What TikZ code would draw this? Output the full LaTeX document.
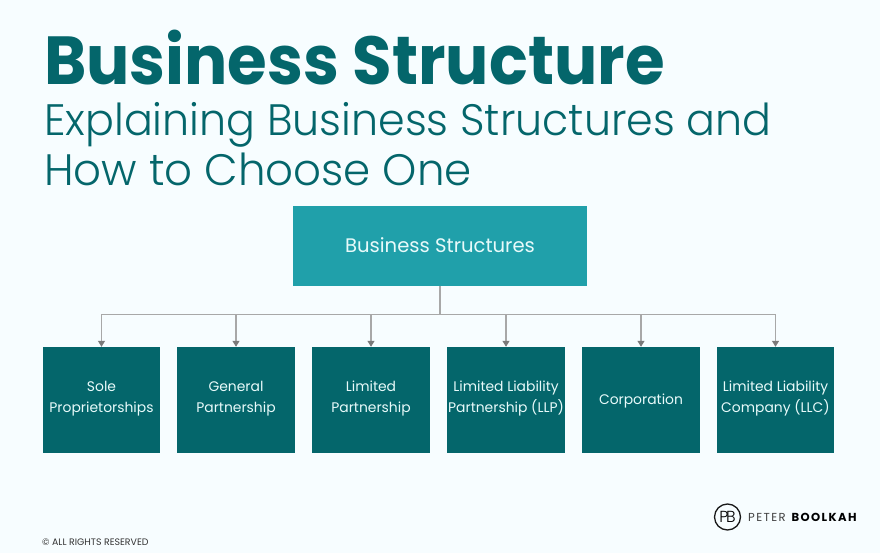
\documentclass[tikz,border=0pt]{standalone}
\usepackage{fontspec}
\setmainfont{Poppins}
\newfontfamily\lt{Poppins Light}
\usetikzlibrary{arrows.meta,calc}
\definecolor{bgc}{HTML}{F7FDFF}
\definecolor{titlec}{HTML}{04666B}
\definecolor{rootc}{HTML}{20A0AA}
\definecolor{boxc}{HTML}{04666B}
\definecolor{linec}{HTML}{A8A8A8}
\definecolor{tipc}{HTML}{7A7A7A}
\definecolor{boxtext}{HTML}{E8FAFA}
\tikzset{
 leaf/.style={fill=boxc,draw=none,minimum width=117.5pt,minimum height=106pt,inner sep=0pt},
 leaftext/.style={inner sep=0pt,align=center,text=boxtext,font=\fontsize{13.9}{21}\selectfont},
 conn/.style={draw=linec,line width=1.2pt,-{Triangle[length=6pt,width=7pt,color=tipc]}},
}
\begin{document}
\begin{tikzpicture}[x=1pt,y=-1pt]
\useasboundingbox[fill=bgc] (0,0) rectangle (880,553);
\node[anchor=base west,inner sep=0pt,text=titlec,font=\fontsize{68}{68}\bfseries\selectfont\addfontfeature{FakeStretch=0.945}] (title) at (44,85) {Business Structure};
\node[anchor=base west,inner sep=0pt,text=titlec,font=\fontsize{44}{44}\lt\addfontfeature{FakeStretch=0.972}] (sub1) at (44,136) {Explaining Business Structures and};
\node[anchor=base west,inner sep=0pt,text=titlec,font=\fontsize{44}{44}\lt\addfontfeature{FakeStretch=0.99}] (sub2) at (44,186) {How to Choose One};
\node[fill=rootc,minimum width=294pt,minimum height=80pt,inner sep=0pt] (root) at (440,246) {};
\node[inner sep=0pt,text=boxtext,font=\fontsize{19.6}{24}\selectfont] (roottext) at (440,245) {Business Structures};
\node[leaf] (a) at (101.5,400) {};
\node[leaf] (b) at (236,400) {};
\node[leaf] (c) at (371,400) {};
\node[leaf] (d) at (506,400) {};
\node[leaf] (e) at (641,400) {};
\node[leaf] (f) at (775.5,400) {};
\node[leaftext] (ta) at (101.5,399) {Sole\\Proprietorships};
\node[leaftext] (tb) at (236,399) {General\\Partnership};
\node[leaftext] (tc) at (371,399) {Limited\\Partnership};
\node[leaftext] (td) at (506,399) {Limited Liability\\Partnership (LLP)};
\node[leaftext] (te) at (641,401) {Corporation};
\node[leaftext] (tf) at (775.5,399) {Limited Liability\\Company (LLC)};
\coordinate (bus) at (440,314.5);
\draw[draw=linec,line width=1.2pt] (root.south) -- (bus);
\foreach \n in {a,b,c,d,e,f}{
  \draw[conn] (bus) -| (\n.north);
}
\node[anchor=base west,inner sep=0pt,text=black!80,font=\fontsize{9.4}{11}\selectfont] (copy) at (42,545) {© ALL RIGHTS RESERVED};
\node[circle,draw=black!90,line width=1.3pt,minimum size=26pt,inner sep=0pt,font=\fontsize{16}{16}\lt] (logo) at (727.5,517) {P\kern-2.5pt B};
\node[anchor=west,inner sep=0pt,font=\fontsize{11.6}{13}\selectfont,text=black!75] (name) at (748,517.5) {\addfontfeature{LetterSpace=12}PETER \textbf{\textcolor{black}{BOOLKAH}}};
\end{tikzpicture}
\end{document}
